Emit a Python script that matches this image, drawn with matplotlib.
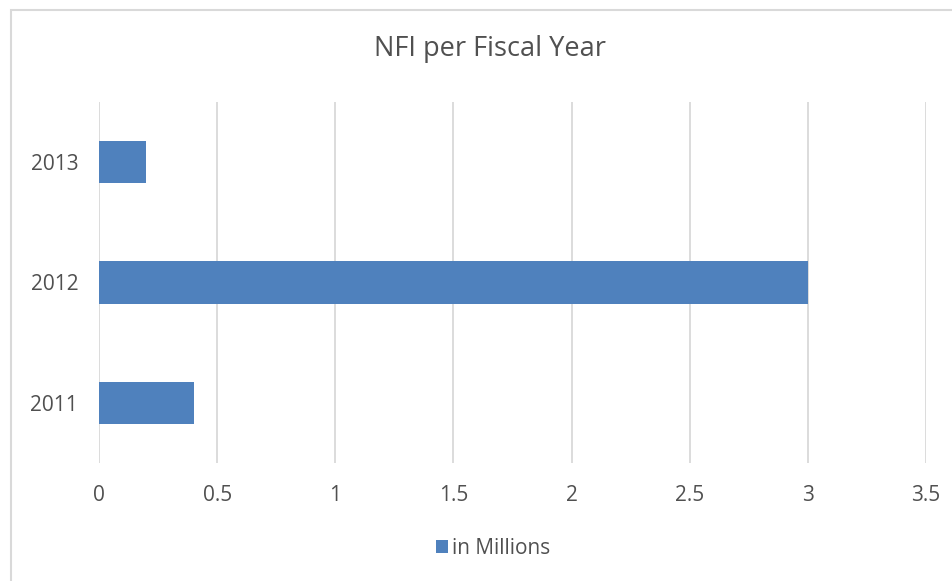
import matplotlib.pyplot as plt
from matplotlib.patches import Rectangle

years = ['2011', '2012', '2013']
nfi = [0.4, 3.0, 0.2]
xticks = [0, 0.5, 1, 1.5, 2, 2.5, 3, 3.5]
xlabels = ['0', '0.5', '1', '1.5', '2', '2.5', '3', '3.5']

plt.rcParams['font.family'] = ['Open Sans', 'DejaVu Sans']

fig = plt.figure(figsize=(9.53, 5.81), dpi=100)
W, H = 953, 581
ax = fig.add_axes([99 / W, 1 - 463 / H, (926 - 99) / W, (463 - 102) / H])

ax.barh(range(len(years)), nfi, height=0.35, color='#4f81bd', label='in Millions', zorder=3)

ax.set_xlim(0, 3.5)
ax.set_ylim(-0.5, 2.5)
ax.set_xticks(xticks)
ax.set_xticklabels(xlabels)
ax.set_yticks(range(len(years)))
ax.set_yticklabels(years)
ax.tick_params(axis='both', length=0, labelsize=15, colors='#505050')
ax.tick_params(axis='x', pad=16)
ax.tick_params(axis='y', pad=15)
ax.grid(axis='x', color='#d9d9d9', linewidth=1.3, zorder=0)
for s in ax.spines.values():
    s.set_visible(False)

fig.text(490 / W, 1 - 49 / H, 'NFI per Fiscal Year', ha='center', va='center',
         fontsize=19.5, color='#505050')

fig.legend(loc='center', bbox_to_anchor=(493 / W, 1 - 548 / H), frameon=False,
           fontsize=15, labelcolor='#505050', handlelength=0.6, handleheight=0.6,
           handletextpad=0.2)

# chart border (only top and left visible in the crop)
fig.patches.append(Rectangle((11 / W, -0.1), 1.2, 1 - 10 / H + 0.1, transform=fig.transFigure,
                             fill=False, edgecolor='#d9d9d9', linewidth=1.5))

fig.savefig('out.png', dpi=100)
